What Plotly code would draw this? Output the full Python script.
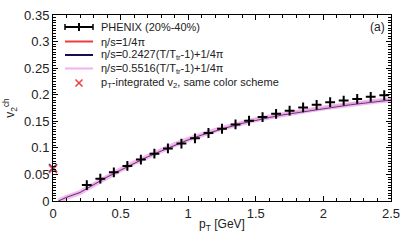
import plotly.graph_objects as go

# PHENIX data (20%-40%)
pt_data = [0.25, 0.35, 0.45, 0.55, 0.65, 0.75, 0.85, 0.95, 1.05, 1.15, 1.25, 1.35,
           1.45, 1.55, 1.65, 1.75, 1.85, 1.95, 2.05, 2.15, 2.25, 2.35, 2.45]
v2_data = [0.030, 0.042, 0.054, 0.066, 0.078, 0.089, 0.099, 0.108, 0.118, 0.128, 0.136, 0.144,
           0.151, 0.158, 0.164, 0.170, 0.176, 0.181, 0.186, 0.189, 0.192, 0.196, 0.199]

# Hydro curves
pt_curve = [0.04, 0.1, 0.2, 0.3, 0.4, 0.5, 0.6, 0.7, 0.8, 0.9, 1.0, 1.1, 1.2, 1.3,
            1.4, 1.5, 1.6, 1.7, 1.8, 1.9, 2.0, 2.1, 2.2, 2.3, 2.4, 2.5]
v2_const = [0.0, 0.007, 0.016, 0.031, 0.046, 0.059, 0.072, 0.084, 0.095, 0.106, 0.116, 0.125,
            0.133, 0.141, 0.148, 0.154, 0.159, 0.164, 0.168, 0.172, 0.176, 0.180, 0.183,
            0.186, 0.189, 0.192]
v2_lin1 = [0.0, 0.007, 0.016, 0.031, 0.045, 0.058, 0.071, 0.083, 0.094, 0.105, 0.115, 0.124,
           0.132, 0.139, 0.146, 0.152, 0.157, 0.162, 0.166, 0.170, 0.174, 0.178, 0.181,
           0.184, 0.187, 0.190]
v2_lin2 = [0.0, 0.007, 0.016, 0.031, 0.046, 0.059, 0.072, 0.084, 0.095, 0.106, 0.116, 0.125,
           0.133, 0.140, 0.147, 0.153, 0.158, 0.163, 0.167, 0.171, 0.175, 0.179, 0.182,
           0.185, 0.188, 0.190]

# pT-integrated v2
int_x = [0.0, 0.0, 0.0]
int_v2 = [0.061, 0.062, 0.060]

legend_labels = ["PHENIX (20%-40%)", "η/s=1/4π",
                 "η/s=0.2427(T/T<sub>tr</sub>-1)+1/4π",
                 "η/s=0.5516(T/T<sub>tr</sub>-1)+1/4π",
                 "p<sub>T</sub>-integrated v<sub>2</sub>, same color scheme"]

red = "#f03c3c"
navy = "#1e0a50"
pink = "#f2b0ee"

W, H = 411, 247
ML, MR, MT, MB = 53, 20, 15, 46
PW, PH = W - ML - MR, H - MT - MB


def px(x):
    return (x - ML) / PW


def py(y):
    return (H - MB - y) / PH


fig = go.Figure()
fig.add_trace(go.Scatter(x=pt_curve, y=v2_const, mode="lines", showlegend=False,
                         line=dict(color=red, width=1.3)))
fig.add_trace(go.Scatter(x=pt_curve, y=v2_lin2, mode="lines", showlegend=False,
                         line=dict(color=pink, width=5), opacity=0.85))
fig.add_trace(go.Scatter(x=pt_curve, y=v2_lin1, mode="lines", showlegend=False,
                         line=dict(color=navy, width=1), opacity=0.7))
fig.add_trace(go.Scatter(x=pt_data, y=v2_data, mode="markers", showlegend=False,
                         marker=dict(symbol="cross-thin", size=7, color="black",
                                     line=dict(width=2, color="black"))))
for xx, yy, cc in zip(int_x, int_v2, [pink, navy, red]):
    fig.add_trace(go.Scatter(x=[xx], y=[yy], mode="markers", showlegend=False,
                             marker=dict(symbol="x-thin", size=8, color=cc,
                                         line=dict(width=1.5, color=cc)), opacity=0.8,
                             cliponaxis=False))

# manual legend
rows = [27, 41.5, 55, 68.5, 83]
sx0, sx1, tx = 65, 93, 99
shapes = []
line_colors = [None, red, navy, pink]
line_widths = [None, 2, 2, 2]
for i, ry in enumerate(rows):
    fig.add_annotation(x=px(tx), y=py(ry), xref="paper", yref="paper", text=legend_labels[i],
                       showarrow=False, xanchor="left", yanchor="middle",
                       font=dict(size=11, color="#222"))
    if i == 0:
        shapes.append(dict(type="line", xref="paper", yref="paper", x0=px(sx0), x1=px(sx1),
                           y0=py(ry), y1=py(ry), line=dict(color="black", width=2)))
        for xx in (sx0, sx1):
            shapes.append(dict(type="line", xref="paper", yref="paper", x0=px(xx), x1=px(xx),
                               y0=py(ry - 3), y1=py(ry + 3), line=dict(color="black", width=1.5)))
        shapes.append(dict(type="line", xref="paper", yref="paper", x0=px(79), x1=px(79),
                           y0=py(ry - 4), y1=py(ry + 4), line=dict(color="black", width=2)))
    elif i < 4:
        shapes.append(dict(type="line", xref="paper", yref="paper", x0=px(sx0), x1=px(sx1),
                           y0=py(ry), y1=py(ry), line=dict(color=line_colors[i], width=line_widths[i])))
    else:
        for a, b in ((-3.5, 3.5), (3.5, -3.5)):
            shapes.append(dict(type="line", xref="paper", yref="paper", x0=px(79 - 3.5), x1=px(79 + 3.5),
                               y0=py(ry + a), y1=py(ry + b), line=dict(color=red, width=1.5)))
fig.update_layout(shapes=shapes)

axis_common = dict(showline=True, linecolor="black", linewidth=1, mirror="allticks",
                   ticks="inside", ticklen=5, tickcolor="black", showgrid=False,
                   zeroline=False, automargin=False, tickfont=dict(size=13, color="#222"))
fig.update_xaxes(range=[0, 2.5], dtick=0.5, tick0=0,
                 minor=dict(ticks="inside", dtick=0.1, ticklen=3, tickcolor="black"),
                 title=dict(text="p<sub>T</sub> [GeV]", font=dict(size=12, color="#222"), standoff=0),
                 **axis_common)
fig.update_yaxes(range=[0, 0.35], dtick=0.05, tick0=0,
                 minor=dict(ticks="inside", dtick=0.005, ticklen=3, tickcolor="black"),
                 title=dict(text="v<sub>2</sub><sup>ch</sup>", font=dict(size=12, color="#222"), standoff=6),
                 **axis_common)

fig.add_annotation(x=px(387), y=py(18), xref="paper", yref="paper", text="(a)", showarrow=False,
                   xanchor="right", yanchor="top", font=dict(size=12, color="#222"))

fig.update_layout(width=W, height=H, margin=dict(l=ML, r=MR, t=MT, b=MB),
                  plot_bgcolor="white", paper_bgcolor="white", showlegend=False,
                  font=dict(family="Liberation Sans, Arial, sans-serif", size=11, color="#222"))

fig.write_html("out.html", config={"displayModeBar": False},
               post_script="document.body.style.margin='0';document.body.style.overflow='hidden';")
